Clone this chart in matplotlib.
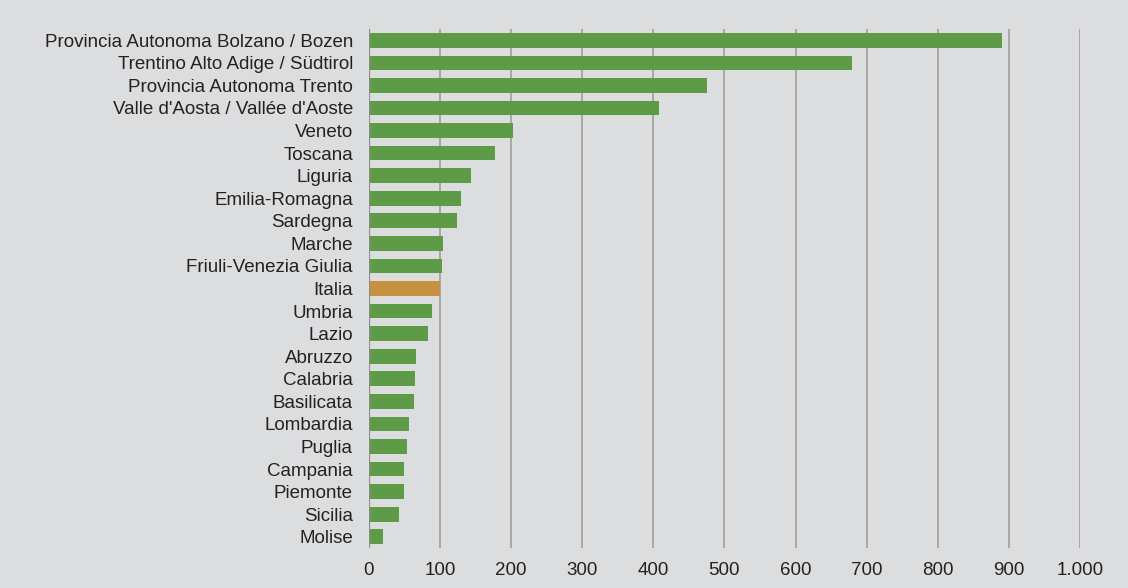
import matplotlib.pyplot as plt
from matplotlib.ticker import FuncFormatter

plt.rcParams['font.family'] = ['Liberation Sans', 'DejaVu Sans']

regions = [
    "Provincia Autonoma Bolzano / Bozen",
    "Trentino Alto Adige / Südtirol",
    "Provincia Autonoma Trento",
    "Valle d'Aosta / Vallée d'Aoste",
    "Veneto",
    "Toscana",
    "Liguria",
    "Emilia-Romagna",
    "Sardegna",
    "Marche",
    "Friuli-Venezia Giulia",
    "Italia",
    "Umbria",
    "Lazio",
    "Abruzzo",
    "Calabria",
    "Basilicata",
    "Lombardia",
    "Puglia",
    "Campania",
    "Piemonte",
    "Sicilia",
    "Molise",
]
values = [890, 679, 475, 408, 203, 177, 143, 129, 124, 104, 103, 100, 89,
          83, 67, 65, 63, 57, 54, 50, 49, 42, 20]
xticks = [0, 100, 200, 300, 400, 500, 600, 700, 800, 900, 1000]

BG = '#dcdddf'
GREEN = '#5e9b48'
ORANGE = '#c8913f'

fig = plt.figure(figsize=(11.28, 5.88), dpi=100, facecolor=BG)
ax = fig.add_axes([0.327, 0.068, 0.9574 - 0.327, 0.9507 - 0.068])
ax.set_facecolor(BG)

colors = [ORANGE if r == "Italia" else GREEN for r in regions]
ypos = list(range(len(regions)))
ax.barh(ypos, values, height=0.65, color=colors, zorder=3)

ax.set_xlim(0, 1000)
ax.set_ylim(len(regions) - 0.5, -0.5)
ax.set_yticks(ypos)
ax.set_yticklabels(regions, fontsize=13.5, color='#222222')
ax.set_xticks(xticks)
ax.xaxis.set_major_formatter(FuncFormatter(lambda v, p: f"{int(v):,}".replace(',', '.')))
ax.tick_params(axis='x', length=0, pad=10, labelsize=13.5, labelcolor='#222222')
ax.tick_params(axis='y', length=0, pad=11.5)

for x in xticks[1:]:
    ax.axvline(x, color='#a3a3a3', lw=1.3, zorder=1)
ax.axvline(0, color='#8c8c8c', lw=1.6, zorder=4)

for s in ax.spines.values():
    s.set_visible(False)

fig.savefig('out.png', dpi=100, facecolor=BG)
